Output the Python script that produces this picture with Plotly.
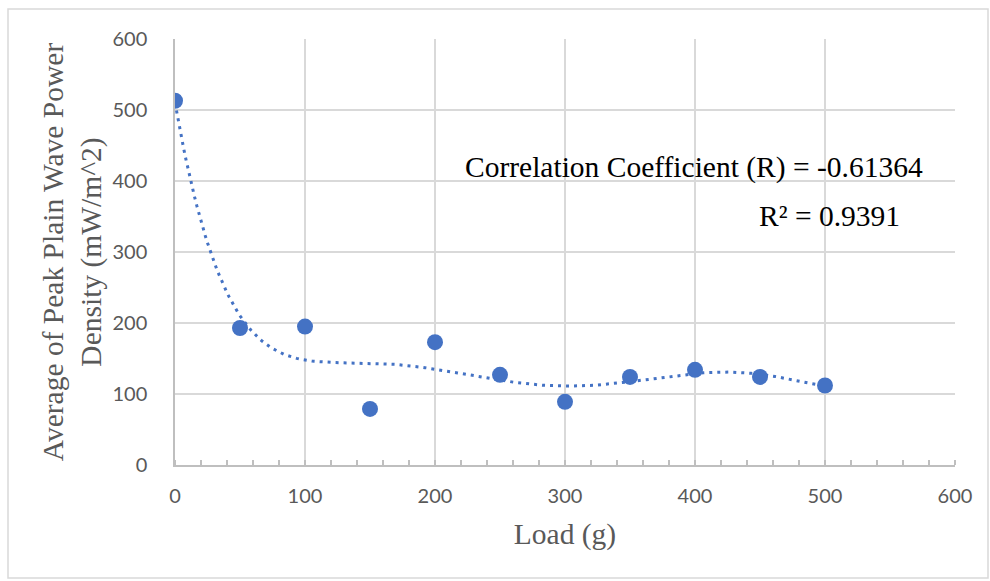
import numpy as np
import plotly.graph_objects as go

load_g = [0, 50, 100, 150, 200, 250, 300, 350, 400, 450, 500]
power_density = [513, 193, 195, 79, 173, 127, 89, 124, 134, 124, 112]
x_ticks = [0, 100, 200, 300, 400, 500, 600]
y_ticks = [0, 100, 200, 300, 400, 500, 600]
corr_text = "Correlation Coefficient (R) = -0.61364"
r2_text = "R² = 0.9391"

# Polynomial (order 6) trendline fitted to the data
xs = np.array(load_g, dtype=float)
ys = np.array(power_density, dtype=float)
coef = np.polyfit(xs / 100.0, ys, 6)
xfit = np.linspace(xs.min(), xs.max(), 300)
yfit = np.polyval(coef, xfit / 100.0)

BLUE = "#4472C4"
W, H = 990, 581
L, R, T, B = 175, 35, 39, 116
pw, ph = W - L - R, H - T - B

SERIF = "Liberation Serif, Times New Roman, serif"
fig = go.Figure()
fig.add_trace(go.Scatter(x=xfit, y=yfit, mode="lines",
                         line=dict(color=BLUE, width=3, dash="3px,5px"),
                         hoverinfo="skip", showlegend=False))
fig.add_trace(go.Scatter(x=load_g, y=power_density, mode="markers",
                         marker=dict(color=BLUE, size=16),
                         showlegend=False))

tickfont = dict(family="Lato, Carlito, Liberation Sans, sans-serif", size=20, color="#595959")
titlefont = dict(family=SERIF, size=29.5, color="#595959")

fig.update_layout(
    width=W, height=H,
    margin=dict(l=L, r=R, t=T, b=B),
    paper_bgcolor="white", plot_bgcolor="white",
    xaxis=dict(range=[0, 600], tickvals=x_ticks, showgrid=True, gridcolor="#d9d9d9", gridwidth=1.5,
               zeroline=False, showline=True, linecolor="#bfbfbf", linewidth=1.5,
               ticks="", tickfont=tickfont, ticklabelstandoff=12,
               minor=dict(dtick=20, ticks="inside", ticklen=5, tickcolor="#bfbfbf", tickwidth=1.5, showgrid=False),
               title=dict(text="Load (g)", font=titlefont, standoff=18)),
    yaxis=dict(range=[0, 600], tickvals=y_ticks, showgrid=True, gridcolor="#d9d9d9", gridwidth=1.5,
               zeroline=False, showline=True, linecolor="#bfbfbf", linewidth=1.5,
               ticks="", tickfont=tickfont, ticklabelstandoff=22,
               title=dict(text="Average of Peak Plain Wave Power<br>Density (mW/m^2)", font=titlefont, standoff=2)),
    shapes=[dict(type="rect", xref="paper", yref="paper",
                 x0=(8 - L) / pw, x1=(988 - L) / pw,
                 y0=(H - B - 578) / ph, y1=(H - B - 9) / ph,
                 line=dict(color="#d9d9d9", width=1.5), fillcolor="rgba(0,0,0,0)", layer="below")],
    annotations=[
        dict(text=corr_text, x=(694 - L) / pw, y=(H - B - 167) / ph, xref="paper", yref="paper",
             xanchor="center", yanchor="middle",
             showarrow=False, font=dict(family=SERIF, size=29.5, color="black")),
        dict(text=r2_text, x=(829 - L) / pw, y=(H - B - 216) / ph, xref="paper", yref="paper",
             xanchor="center", yanchor="middle",
             showarrow=False, font=dict(family=SERIF, size=29.5, color="black")),
    ],
)

fig.write_html("out.html")
